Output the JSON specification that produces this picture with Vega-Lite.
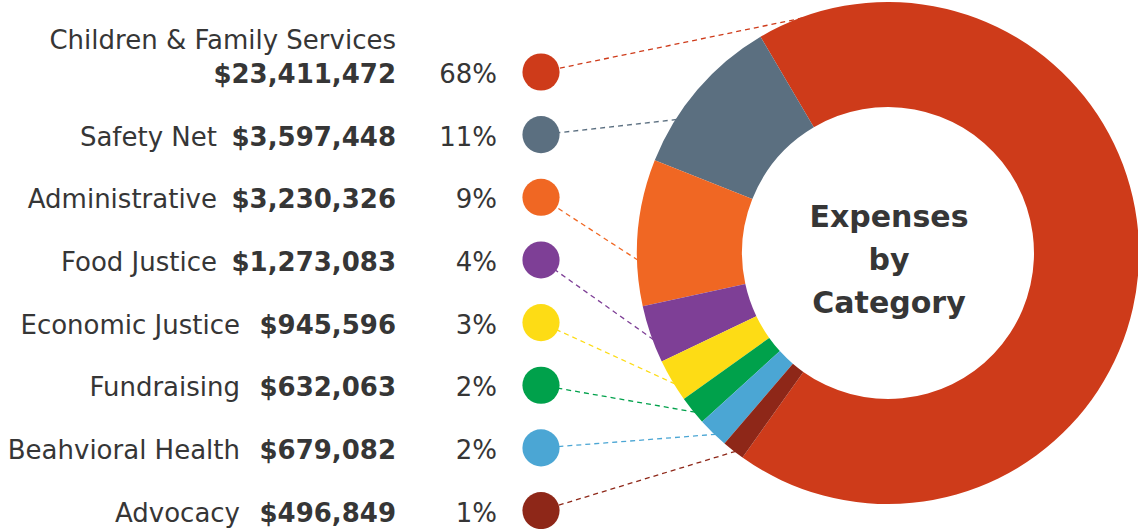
{
  "$schema": "https://vega.github.io/schema/vega-lite/v6.json",
  "width": 1138,
  "height": 529,
  "padding": 0,
  "autosize": {"type": "none"},
  "background": "white",
  "view": {"stroke": null},
  "config": {"text": {"font": "DejaVu Sans", "fill": "#363636"}},
  "data": {
    "values": [
      {"category": "Children & Family Services", "amount": 23411472, "share": 0.68, "row": 1},
      {"category": "Safety Net", "amount": 3597448, "share": 0.11, "row": 2},
      {"category": "Administrative", "amount": 3230326, "share": 0.09, "row": 3},
      {"category": "Food Justice", "amount": 1273083, "share": 0.04, "row": 4},
      {"category": "Economic Justice", "amount": 945596, "share": 0.03, "row": 5},
      {"category": "Fundraising", "amount": 632063, "share": 0.02, "row": 6},
      {"category": "Beahvioral Health", "amount": 679082, "share": 0.02, "row": 7},
      {"category": "Advocacy", "amount": 496849, "share": 0.01, "row": 8}
    ]
  },
  "layer": [
    {
      "transform": [
        {"joinaggregate": [{"op": "sum", "field": "amount", "as": "total"}]},
        {"window": [{"op": "sum", "field": "amount", "as": "cum"}], "sort": [{"field": "row", "order": "descending"}], "frame": [null, 0]},
        {"calculate": "3.760 + 2*PI*(datum.cum - datum.amount)/datum.total", "as": "a0"},
        {"calculate": "2*PI*datum.amount/datum.total", "as": "span"},
        {"calculate": "datum.a0 + min(0.4*datum.span, 0.185)", "as": "ang"},
        {"calculate": "888 + 250*sin(datum.ang)", "as": "lx"},
        {"calculate": "3.889 - 250*cos(datum.ang)/62.65", "as": "ly"}
      ],
      "mark": {"type": "rule", "strokeDash": [5, 4], "strokeWidth": 1.3},
      "encoding": {
        "x": {"field": "lx", "type": "quantitative", "scale": {"domain": [0, 1138], "nice": false, "zero": false}, "axis": null},
        "y": {"field": "ly", "type": "quantitative", "scale": {"domain": [-0.1492, 8.2944], "reverse": true, "nice": false, "zero": false}, "axis": null},
        "x2": {"datum": 541},
        "y2": {"field": "row"},
        "color": {
          "field": "category",
          "type": "nominal",
          "scale": {
            "domain": ["Children & Family Services", "Safety Net", "Administrative", "Food Justice", "Economic Justice", "Fundraising", "Beahvioral Health", "Advocacy"],
            "range": ["#CE3B1A", "#5B6F80", "#F06723", "#7E3F96", "#FDDC15", "#00A14B", "#4BA6D4", "#8E2718"]
          },
          "legend": null
        }
      }
    },
    {
      "mark": {"type": "circle", "size": 1380, "opacity": 1},
      "encoding": {
        "x": {"datum": 541, "type": "quantitative"},
        "y": {"field": "row", "type": "quantitative"},
        "color": {"field": "category", "type": "nominal", "legend": null}
      }
    },
    {
      "mark": {"type": "arc", "outerRadius": 251, "innerRadius": 146},
      "encoding": {
        "theta": {"field": "amount", "type": "quantitative", "stack": true, "scale": {"range": [3.760, 10.0432]}},
        "order": {"field": "row", "type": "quantitative", "sort": "descending"},
        "color": {"field": "category", "type": "nominal", "legend": null},
        "x": {"value": 888},
        "y": {"value": 253}
      }
    },
    {
      "mark": {"type": "text", "align": "right", "baseline": "middle", "fontSize": 26, "dy": 3},
      "encoding": {
        "x": {"datum": 497, "type": "quantitative"},
        "y": {"field": "row", "type": "quantitative"},
        "text": {"field": "share", "type": "quantitative", "format": ".0%"}
      }
    },
    {
      "mark": {"type": "text", "align": "right", "baseline": "middle", "fontSize": 26, "fontWeight": "bold", "dy": 3},
      "encoding": {
        "x": {"datum": 396, "type": "quantitative"},
        "y": {"field": "row", "type": "quantitative"},
        "text": {"field": "amount", "type": "quantitative", "format": "$,d"}
      }
    },
    {
      "transform": [{"filter": "datum.row == 1"}],
      "mark": {"type": "text", "align": "right", "baseline": "middle", "fontSize": 26, "dy": -31},
      "encoding": {
        "x": {"datum": 396, "type": "quantitative"},
        "y": {"field": "row", "type": "quantitative"},
        "text": {"field": "category", "type": "nominal"}
      }
    },
    {
      "transform": [{"filter": "datum.row > 1 && datum.amount >= 1000000"}],
      "mark": {"type": "text", "align": "right", "baseline": "middle", "fontSize": 26, "dy": 3},
      "encoding": {
        "x": {"datum": 217, "type": "quantitative"},
        "y": {"field": "row", "type": "quantitative"},
        "text": {"field": "category", "type": "nominal"}
      }
    },
    {
      "transform": [{"filter": "datum.amount < 1000000"}],
      "mark": {"type": "text", "align": "right", "baseline": "middle", "fontSize": 26, "dy": 3},
      "encoding": {
        "x": {"datum": 240, "type": "quantitative"},
        "y": {"field": "row", "type": "quantitative"},
        "text": {"field": "category", "type": "nominal"}
      }
    },
    {
      "data": {"values": [{"title": "Expenses by Category"}]},
      "mark": {"type": "text", "align": "center", "baseline": "middle", "fontSize": 30, "fontWeight": "bold", "lineHeight": 43, "text": ["Expenses", "by", "Category"]},
      "encoding": {
        "x": {"datum": 889, "type": "quantitative"},
        "y": {"datum": 3.33, "type": "quantitative"}
      }
    }
  ]
}
